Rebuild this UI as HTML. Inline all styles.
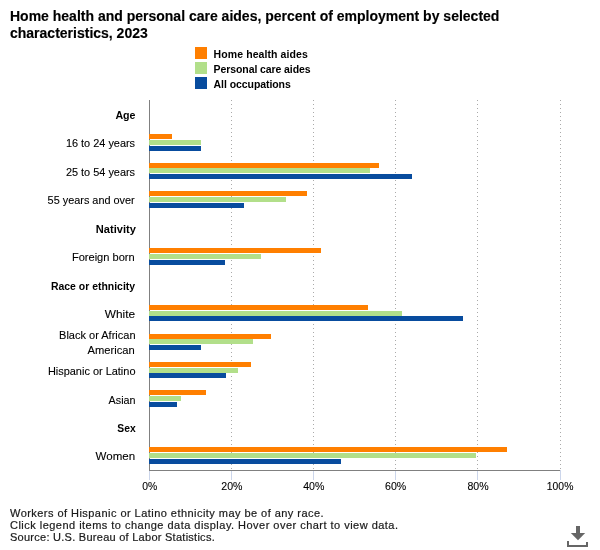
<!DOCTYPE html><html><head><meta charset="utf-8"><style>html,body{margin:0;padding:0;background:#fff;}svg{display:block;font-family:"Liberation Sans",sans-serif;} .n{fill:#000;stroke:#000;stroke-width:0.1px;} .b{fill:#000;} .lg{fill:#000;} .t{fill:#000;stroke:#000;stroke-width:0.15px;} .fn{fill:#1a1a1a;stroke:#1a1a1a;stroke-width:0.2px;}</style></head><body>
<svg style="will-change:transform" width="600" height="550" viewBox="0 0 600 550">
<rect width="600" height="550" fill="#fff"/>
<text x="10" y="20.5" font-size="14" font-weight="bold" class="t">Home health and personal care aides, percent of employment by selected</text>
<text x="10" y="37.5" font-size="14" font-weight="bold" class="t">characteristics, 2023</text>
<rect x="195" y="47" width="12" height="12" fill="#ff7f00"/>
<text x="213.6" y="57.6" font-size="10.5" font-weight="bold" class="lg" textLength="94.2" lengthAdjust="spacing">Home health aides</text>
<rect x="195" y="62" width="12" height="12" fill="#b2df8a"/>
<text x="213.6" y="72.6" font-size="10.5" font-weight="bold" class="lg" textLength="97.0" lengthAdjust="spacing">Personal care aides</text>
<rect x="195" y="77" width="12" height="12" fill="#084c9e"/>
<text x="213.6" y="87.6" font-size="10.5" font-weight="bold" class="lg" textLength="77.2" lengthAdjust="spacing">All occupations</text>
<line x1="231.5" y1="100" x2="231.5" y2="470" stroke="#aaa" stroke-width="1" stroke-dasharray="1 3"/>
<line x1="313.5" y1="100" x2="313.5" y2="470" stroke="#aaa" stroke-width="1" stroke-dasharray="1 3"/>
<line x1="395.5" y1="100" x2="395.5" y2="470" stroke="#aaa" stroke-width="1" stroke-dasharray="1 3"/>
<line x1="477.5" y1="100" x2="477.5" y2="470" stroke="#aaa" stroke-width="1" stroke-dasharray="1 3"/>
<line x1="560.5" y1="100" x2="560.5" y2="470" stroke="#aaa" stroke-width="1" stroke-dasharray="1 3"/>
<rect x="149" y="470" width="1" height="10" fill="#ccd6eb"/>
<rect x="231" y="470" width="1" height="10" fill="#ccd6eb"/>
<rect x="313" y="470" width="1" height="10" fill="#ccd6eb"/>
<rect x="395" y="470" width="1" height="10" fill="#ccd6eb"/>
<rect x="477" y="470" width="1" height="10" fill="#ccd6eb"/>
<rect x="560" y="470" width="1" height="10" fill="#ccd6eb"/>
<rect x="149" y="470" width="411" height="1" fill="#808080"/>
<rect x="149" y="100" width="1" height="371" fill="#808080"/>
<rect x="149" y="134" width="23" height="5" fill="#ff7f00"/>
<rect x="149" y="140" width="52" height="5" fill="#b2df8a"/>
<rect x="149" y="146" width="52" height="5" fill="#084c9e"/>
<rect x="149" y="163" width="230" height="5" fill="#ff7f00"/>
<rect x="149" y="168" width="221" height="5" fill="#b2df8a"/>
<rect x="149" y="174" width="263" height="5" fill="#084c9e"/>
<rect x="149" y="191" width="158" height="5" fill="#ff7f00"/>
<rect x="149" y="197" width="137" height="5" fill="#b2df8a"/>
<rect x="149" y="203" width="95" height="5" fill="#084c9e"/>
<rect x="149" y="248" width="172" height="5" fill="#ff7f00"/>
<rect x="149" y="254" width="112" height="5" fill="#b2df8a"/>
<rect x="149" y="260" width="76" height="5" fill="#084c9e"/>
<rect x="149" y="305" width="219" height="5" fill="#ff7f00"/>
<rect x="149" y="311" width="253" height="5" fill="#b2df8a"/>
<rect x="149" y="316" width="314" height="5" fill="#084c9e"/>
<rect x="149" y="334" width="122" height="5" fill="#ff7f00"/>
<rect x="149" y="339" width="104" height="5" fill="#b2df8a"/>
<rect x="149" y="345" width="52" height="5" fill="#084c9e"/>
<rect x="149" y="362" width="102" height="5" fill="#ff7f00"/>
<rect x="149" y="368" width="89" height="5" fill="#b2df8a"/>
<rect x="149" y="373" width="77" height="5" fill="#084c9e"/>
<rect x="149" y="390" width="57" height="5" fill="#ff7f00"/>
<rect x="149" y="396" width="32" height="5" fill="#b2df8a"/>
<rect x="149" y="402" width="28" height="5" fill="#084c9e"/>
<rect x="149" y="447" width="358" height="5" fill="#ff7f00"/>
<rect x="149" y="453" width="327" height="5" fill="#b2df8a"/>
<rect x="149" y="459" width="192" height="5" fill="#084c9e"/>
<text x="115.4" y="118.7" font-size="11" font-weight="bold" class="b" textLength="20.1" lengthAdjust="spacingAndGlyphs">Age</text>
<text x="65.9" y="147.2" font-size="11" class="n" textLength="69.2" lengthAdjust="spacingAndGlyphs">16 to 24 years</text>
<text x="65.9" y="175.7" font-size="11" class="n" textLength="69.2" lengthAdjust="spacingAndGlyphs">25 to 54 years</text>
<text x="47.6" y="204.1" font-size="11" class="n" textLength="87.1" lengthAdjust="spacingAndGlyphs">55 years and over</text>
<text x="95.8" y="232.6" font-size="11" font-weight="bold" class="b" textLength="40.1" lengthAdjust="spacingAndGlyphs">Nativity</text>
<text x="71.9" y="261.0" font-size="11" class="n" textLength="62.8" lengthAdjust="spacingAndGlyphs">Foreign born</text>
<text x="50.9" y="289.5" font-size="11" font-weight="bold" class="b" textLength="84.2" lengthAdjust="spacingAndGlyphs">Race or ethnicity</text>
<text x="104.8" y="318.0" font-size="11" class="n" textLength="30.3" lengthAdjust="spacingAndGlyphs">White</text>
<text x="47.9" y="374.9" font-size="11" class="n" textLength="87.6" lengthAdjust="spacingAndGlyphs">Hispanic or Latino</text>
<text x="108.6" y="404.1" font-size="11" class="n" textLength="26.9" lengthAdjust="spacingAndGlyphs">Asian</text>
<text x="117.3" y="431.8" font-size="11" font-weight="bold" class="b" textLength="18.4" lengthAdjust="spacingAndGlyphs">Sex</text>
<text x="95.6" y="460.3" font-size="11" class="n" textLength="39.5" lengthAdjust="spacingAndGlyphs">Women</text>
<text x="59.1" y="339" font-size="11" class="n" textLength="76.4" lengthAdjust="spacingAndGlyphs">Black or African</text>
<text x="87.5" y="354" font-size="11" class="n" textLength="47.2" lengthAdjust="spacingAndGlyphs">American</text>
<text x="149.7" y="489.6" font-size="11" class="n" text-anchor="middle" textLength="15" lengthAdjust="spacingAndGlyphs">0%</text>
<text x="231.9" y="489.6" font-size="11" class="n" text-anchor="middle" textLength="21.2" lengthAdjust="spacingAndGlyphs">20%</text>
<text x="313.8" y="489.6" font-size="11" class="n" text-anchor="middle" textLength="21.2" lengthAdjust="spacingAndGlyphs">40%</text>
<text x="395.7" y="489.6" font-size="11" class="n" text-anchor="middle" textLength="21.2" lengthAdjust="spacingAndGlyphs">60%</text>
<text x="478.0" y="489.6" font-size="11" class="n" text-anchor="middle" textLength="21.2" lengthAdjust="spacingAndGlyphs">80%</text>
<text x="560.1" y="489.6" font-size="11" class="n" text-anchor="middle" textLength="26.5" lengthAdjust="spacingAndGlyphs">100%</text>
<text x="10" y="516.6" font-size="11" class="fn" textLength="313.6" lengthAdjust="spacing">Workers of Hispanic or Latino ethnicity may be of any race.</text>
<text x="10" y="528.6" font-size="11" class="fn" textLength="388" lengthAdjust="spacing">Click legend items to change data display. Hover over chart to view data.</text>
<text x="10" y="540.6" font-size="11" class="fn" textLength="204.7" lengthAdjust="spacing">Source: U.S. Bureau of Labor Statistics.</text>
<g fill="#666"><rect x="576" y="526" width="4" height="7"/><polygon points="570.8,533 585.2,533 578,540.3"/><rect x="567" y="541" width="2" height="6"/><rect x="586" y="542" width="2" height="5"/><rect x="567" y="545" width="21" height="2"/></g>
</svg></body></html>
